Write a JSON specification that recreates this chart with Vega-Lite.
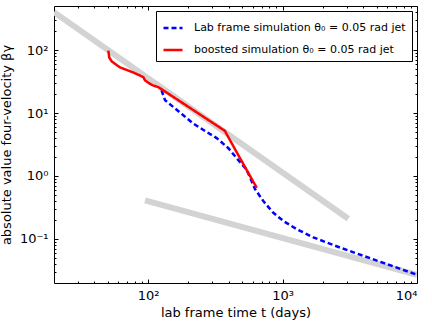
{
  "$schema": "https://vega.github.io/schema/vega-lite/v6.json",
  "width": 363,
  "height": 277,
  "autosize": {"type": "none"},
  "padding": {"left": 54, "top": 6, "right": 15, "bottom": 41},
  "background": "white",
  "config": {
    "view": {"stroke": "#000", "strokeWidth": 1},
    "axis": {
      "domain": false, "grid": false,
      "labelFont": "DejaVu Sans", "titleFont": "DejaVu Sans",
      "labelFontSize": 13, "titleFontSize": 13, "titleFontWeight": "normal",
      "tickColor": "#000", "labelColor": "#000", "titleColor": "#000",
      "tickWidth": 1
    },
    "legend": {"labelFont": "DejaVu Sans"}
  },
  "data": {
    "values": [
      {"series": "guide1", "t": 20, "v": 400},
      {"series": "guide1", "t": 3084, "v": 0.21},
      {"series": "guide2", "t": 95, "v": 0.41},
      {"series": "guide2", "t": 10000, "v": 0.027},
      {"series": "Lab frame simulation θ₀ = 0.05 rad jet", "t": 126, "v": 22.9},
      {"series": "Lab frame simulation θ₀ = 0.05 rad jet", "t": 134, "v": 15.9},
      {"series": "Lab frame simulation θ₀ = 0.05 rad jet", "t": 154, "v": 12.5},
      {"series": "Lab frame simulation θ₀ = 0.05 rad jet", "t": 183, "v": 9.2},
      {"series": "Lab frame simulation θ₀ = 0.05 rad jet", "t": 217, "v": 6.8},
      {"series": "Lab frame simulation θ₀ = 0.05 rad jet", "t": 273, "v": 5.0},
      {"series": "Lab frame simulation θ₀ = 0.05 rad jet", "t": 324, "v": 4.0},
      {"series": "Lab frame simulation θ₀ = 0.05 rad jet", "t": 396, "v": 2.76},
      {"series": "Lab frame simulation θ₀ = 0.05 rad jet", "t": 456, "v": 1.92},
      {"series": "Lab frame simulation θ₀ = 0.05 rad jet", "t": 541, "v": 1.26},
      {"series": "Lab frame simulation θ₀ = 0.05 rad jet", "t": 625, "v": 0.62},
      {"series": "Lab frame simulation θ₀ = 0.05 rad jet", "t": 720, "v": 0.40},
      {"series": "Lab frame simulation θ₀ = 0.05 rad jet", "t": 855, "v": 0.26},
      {"series": "Lab frame simulation θ₀ = 0.05 rad jet", "t": 1015, "v": 0.193},
      {"series": "Lab frame simulation θ₀ = 0.05 rad jet", "t": 1276, "v": 0.143},
      {"series": "Lab frame simulation θ₀ = 0.05 rad jet", "t": 1695, "v": 0.106},
      {"series": "Lab frame simulation θ₀ = 0.05 rad jet", "t": 2677, "v": 0.073},
      {"series": "Lab frame simulation θ₀ = 0.05 rad jet", "t": 3992, "v": 0.054},
      {"series": "Lab frame simulation θ₀ = 0.05 rad jet", "t": 5958, "v": 0.040},
      {"series": "Lab frame simulation θ₀ = 0.05 rad jet", "t": 10000, "v": 0.027},
      {"series": "boosted simulation θ₀ = 0.05 rad jet", "t": 50.7, "v": 98},
      {"series": "boosted simulation θ₀ = 0.05 rad jet", "t": 51.5, "v": 76},
      {"series": "boosted simulation θ₀ = 0.05 rad jet", "t": 53.7, "v": 66},
      {"series": "boosted simulation θ₀ = 0.05 rad jet", "t": 61.9, "v": 53},
      {"series": "boosted simulation θ₀ = 0.05 rad jet", "t": 77.8, "v": 44},
      {"series": "boosted simulation θ₀ = 0.05 rad jet", "t": 87, "v": 39.4},
      {"series": "boosted simulation θ₀ = 0.05 rad jet", "t": 92.3, "v": 37},
      {"series": "boosted simulation θ₀ = 0.05 rad jet", "t": 95, "v": 33},
      {"series": "boosted simulation θ₀ = 0.05 rad jet", "t": 103.5, "v": 29},
      {"series": "boosted simulation θ₀ = 0.05 rad jet", "t": 109, "v": 27.4},
      {"series": "boosted simulation θ₀ = 0.05 rad jet", "t": 119, "v": 25.8},
      {"series": "boosted simulation θ₀ = 0.05 rad jet", "t": 130, "v": 22.9},
      {"series": "boosted simulation θ₀ = 0.05 rad jet", "t": 373, "v": 5.2},
      {"series": "boosted simulation θ₀ = 0.05 rad jet", "t": 407, "v": 3.7},
      {"series": "boosted simulation θ₀ = 0.05 rad jet", "t": 483, "v": 1.92},
      {"series": "boosted simulation θ₀ = 0.05 rad jet", "t": 643, "v": 0.65}
    ]
  },
  "resolve": {"axis": {"x": "independent", "y": "independent"}},
  "layer": [
    {
      "transform": [{"filter": "indexof(datum.series, 'guide') == 0"}],
      "mark": {"type": "line", "color": "#d3d3d3", "strokeWidth": 6, "clip": true},
      "encoding": {
        "x": {"field": "t", "type": "quantitative",
          "scale": {"type": "log", "domain": [20, 10000], "nice": false},
          "axis": {"orient": "bottom", "values": [100, 1000, 10000], "tickSize": -4, "labelPadding": 10,
            "labelExpr": "datum.value < 500 ? '10²' : datum.value < 5000 ? '10³' : '10⁴'",
            "title": "lab frame time t (days)", "titlePadding": 4}},
        "y": {"field": "v", "type": "quantitative",
          "scale": {"type": "log", "domain": [0.02, 500], "nice": false},
          "axis": {"orient": "left", "values": [0.1, 1, 10, 100], "tickSize": -4, "labelPadding": 10,
            "labelExpr": "datum.value < 0.5 ? '10⁻¹' : datum.value < 5 ? '10⁰' : datum.value < 50 ? '10¹' : '10²'",
            "title": "absolute value four-velocity βγ", "titlePadding": 6}},
        "detail": {"field": "series"}
      }
    },
    {
      "transform": [{"filter": "indexof(datum.series, 'guide') != 0"}],
      "mark": {"type": "line", "strokeWidth": 2.5, "clip": true},
      "encoding": {
        "x": {"field": "t", "type": "quantitative",
          "axis": {"orient": "top", "values": [100, 1000, 10000], "tickSize": -4, "labels": false, "title": null}},
        "y": {"field": "v", "type": "quantitative",
          "axis": {"orient": "right", "values": [0.1, 1, 10, 100], "tickSize": -4, "labels": false, "title": null}},
        "color": {"field": "series", "type": "nominal",
          "scale": {"domain": ["Lab frame simulation θ₀ = 0.05 rad jet", "boosted simulation θ₀ = 0.05 rad jet"], "range": ["#0000ff", "#ff0000"]},
          "legend": {"title": null, "orient": "top-right", "offset": 5, "symbolType": "stroke", "symbolSize": 361,
            "symbolStrokeWidth": 2.5, "labelFontSize": 11, "labelOffset": 10, "rowPadding": 6, "padding": 6,
            "strokeColor": "#000", "fillColor": "#fff", "cornerRadius": 0, "labelLimit": 400}},
        "strokeDash": {"field": "series", "type": "nominal",
          "scale": {"domain": ["Lab frame simulation θ₀ = 0.05 rad jet", "boosted simulation θ₀ = 0.05 rad jet"], "range": [[5, 3], [1, 0]]},
          "legend": null}
      }
    },
    {
      "mark": {"type": "point", "opacity": 0},
      "encoding": {
        "x": {"field": "t", "type": "quantitative",
          "axis": {"orient": "bottom", "values": [30,40,50,60,70,80,90,200,300,400,500,600,700,800,900,2000,3000,4000,5000,6000,7000,8000,9000], "tickSize": -2, "labels": false, "title": null}},
        "y": {"field": "v", "type": "quantitative",
          "axis": {"orient": "left", "values": [0.03,0.04,0.05,0.06,0.07,0.08,0.09,0.2,0.3,0.4,0.5,0.6,0.7,0.8,0.9,2,3,4,5,6,7,8,9,20,30,40,50,60,70,80,90,200,300,400], "tickSize": -2, "labels": false, "title": null}}
      }
    },
    {
      "mark": {"type": "point", "opacity": 0},
      "encoding": {
        "x": {"field": "t", "type": "quantitative",
          "axis": {"orient": "top", "values": [30,40,50,60,70,80,90,200,300,400,500,600,700,800,900,2000,3000,4000,5000,6000,7000,8000,9000], "tickSize": -2, "labels": false, "title": null}},
        "y": {"field": "v", "type": "quantitative",
          "axis": {"orient": "right", "values": [0.03,0.04,0.05,0.06,0.07,0.08,0.09,0.2,0.3,0.4,0.5,0.6,0.7,0.8,0.9,2,3,4,5,6,7,8,9,20,30,40,50,60,70,80,90,200,300,400], "tickSize": -2, "labels": false, "title": null}}
      }
    }
  ]
}
